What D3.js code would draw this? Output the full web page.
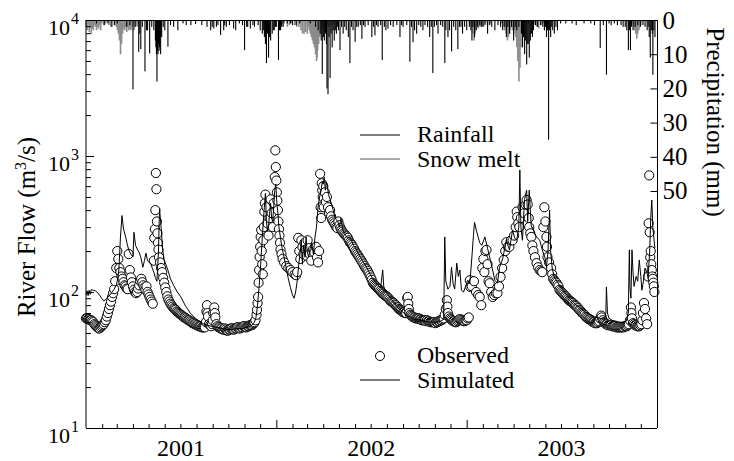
<!DOCTYPE html>
<html><head><meta charset="utf-8">
<script src="https://cdn.jsdelivr.net/npm/d3@7"></script>
<style>
body{margin:0;background:#fff;}
svg text{font-family:"Liberation Serif","Times New Roman",serif;fill:#000;}
</style></head><body>
<svg id="chart" width="734" height="461"></svg>
<script>
// ---- data (day = days since 2001-01-01) ----
const startDate = new Date(2001, 0, 1);
const yearLabels = ["2001", "2002", "2003"];
const flowTicks = [10, 100, 1000, 10000];
const flowExponents = ["1", "2", "3", "4"];
const precipTicks = [0, 10, 20, 30, 40, 50];

// observed river flow [day, m3/s]
const observed = [
[0,64],[2,64],[4,63],[6,63],[8,62],[10,62],[12,61],[14,60],[16,58],[18,57],[20,56],[22,55],[24,54],[26,54],[28,55],
[30,56],[32,57],[34,58],[36,60],[38,62],[40,66],[42,70],[44,75],[46,80],[48,85],[50,92],[52,98],[54,105],[56,120],[58,150],[60,200],[62,175],[64,150],
[66,140],[68,130],[70,125],[72,118],[74,112],[76,110],[78,106],[80,105],[82,190],[84,145],[86,128],[88,118],[90,110],[92,104],[94,100],[96,98],[98,100],[100,106],[102,112],[104,120],[106,125],[108,118],[110,112],[112,108],[114,104],[116,110],[118,100],[120,96],[122,92],[124,88],[126,85],[128,82],
[130,170],[131,250],[132,290],[133,400],[134,750],[135,570],[136,330],[137,270],[138,230],[139,205],[140,180],[142,165],[144,150],
[146,140],[148,127],[150,117],[152,108],[154,100],[156,93],[158,88],[160,85],[162,82],[164,80],[166,78],[168,76],[170,75],[172,74],[174,72],[176,71],[178,70],[180,69],[182,68],[184,67],[186,66],[188,65],[190,65],[192,64],[194,63],[196,62],[198,62],[200,61],[202,60],[204,59],[206,59],[208,58],[210,58],[212,57],[214,57],[216,56],[218,56],[220,56],[222,55],[224,55],[226,55],[228,55],[230,60],[231,72],[232,80],[233,70],[234,66],[236,58],[238,57],[240,56],[242,58],[243,62],[244,70],[246,77],[247,70],[248,65],[250,58],[252,56],[254,55],[256,55],
[258,54],[260,54],[262,53],[264,53],[266,54],[268,53],[270,52],[272,52],[274,53],[276,53],[278,54],[280,54],[282,53],[284,53],[286,54],[288,54],[290,55],[292,55],[294,54],[296,54],[298,55],[300,55],[302,56],[304,56],[306,55],[308,55],[310,56],[312,56],[314,57],[316,57],[318,57],[320,58],[322,59],[323,60],
[325,62],[327,68],[328,74],[329,83],[330,92],[331,117],[332,145],[333,181],[334,215],[335,254],[336,286],[337,200],[338,160],[339,135],[340,240],[341,300],[342,390],[343,450],[344,520],[346,420],[348,320],[350,260],[352,350],[354,480],[356,380],[358,300],[360,450],[362,700],[363,1100],[364,830],[365,660],[366,540],[367,470],[368,400],[369,330],[370,290],[371,260],[372,230],[373,205],[375,190],[377,175],[380,165],
[384,155],[388,150],[392,145],[396,140],[400,135],[403,133],[405,140],[407,250],[409,200],[411,175],[413,240],[415,215],[417,190],[419,230],[421,205],[423,185],[425,240],[427,210],[429,190],[432,170],[435,205],[438,195],[441,215],[443,180],[445,165],[447,200],
[449,740],[450,420],[451,350],[452,630],[453,560],[454,500],[455,600],[456,420],[458,540],[460,460],[462,500],[464,420],[466,380],[468,400],[470,360],[472,340],[474,330],[476,320],[478,310],[480,300],[482,295],
[484,330],[486,310],[488,295],[490,285],[492,278],[494,270],[496,265],[498,260],[500,256],[502,250],[504,240],[506,232],[508,227],[510,222],[512,215],[514,208],[516,200],[518,195],[520,190],[522,185],[524,180],[526,175],[528,170],[530,165],[532,160],[534,155],[536,150],[538,147],[540,143],[542,138],[544,133],[546,128],[548,123],[550,117],[552,114],[554,112],[556,110],[558,108],[560,106],[562,105],[564,102],[566,100],[568,98],[570,97],[572,95],[574,94],[576,93],[578,92],[580,90],[582,88],[584,86],[586,85],[588,84],[590,83],[592,81],[594,80],[596,78],[598,77],[600,75],[602,74],[604,73],[606,72],[608,71],[610,71],[612,70],[614,70],[616,90],[617,92],[618,82],[619,75],[620,70],[622,68],[624,67],[626,66],[628,65],[630,65],[632,64],[634,64],[636,64],[638,64],[640,63],[642,63],[644,62],[646,62],[648,62],[650,62],[652,61],[654,62],[656,61],[658,61],[660,60],[662,60],[664,60],[666,60],
[668,60],[670,59],[672,60],[674,60],[676,61],[678,61],[680,62],[682,62],[684,63],[686,64],[688,68],[690,75],[692,87],[693,78],[694,70],[696,66],[698,64],[700,63],[702,62],[704,61],[706,61],[708,60],[710,60],[712,61],[714,62],[716,63],[718,63],[720,62],[722,62],[724,61],[726,61],[728,62],[730,62],[732,64],[734,65],[736,122],[737,109],
[740,110],[744,120],[748,100],[752,95],[755,92],[758,80],[760,150],[762,175],[764,140],[766,200],[768,204],[770,160],[772,120],[774,116],[777,100],[780,92],[783,95],[786,98],[789,98],[792,110],[795,129],[798,150],[801,172],[804,200],[806,232],[809,215],[812,215],[815,240],[818,240],[821,260],[824,300],[826,390],[827,355],[829,320],[831,300],[834,350],[837,420],[840,380],[843,440],[845,475],[847,440],[849,350],[850,300],[852,270],[854,254],[856,220],[858,200],[861,180],[864,163],[867,152],[870,145],[873,142],[875,140],[877,300],[879,420],[881,330],[883,254],[884,215],[885,180],[888,165],
[892,150],[894,135],[896,125],[898,122],[900,119],[902,117],[904,113],[906,110],[908,104],[910,102],[912,100],[914,98],[916,96],[918,94],[920,93],[922,91],[924,89],[926,87],[928,86],[930,85],[932,84],[934,83],[936,81],[938,80],[940,79],[942,77],[944,76],[946,74],[948,73],[950,71],[952,70],[954,69],[956,68],[958,66],[960,65],[962,64],[964,63],[966,63],[968,62],[970,61],[972,60],[974,60],[976,59],[978,59],[980,59],[982,60],[984,61],[986,64],[988,67],[989,65],[991,62],[993,60],[995,59],[997,58],[999,58],[1001,57],[1003,57],[1005,57],[1007,57],[1009,56],[1011,56],[1013,56],[1015,56],[1017,55],[1019,55],[1021,55],[1023,55],[1025,55],[1027,55],[1029,55],[1031,55],[1033,56],[1035,56],[1037,56],[1039,57],[1041,58],[1043,62],[1045,77],[1046,70],[1047,64],[1049,59],[1051,58],[1053,57],[1055,57],[1057,56],[1059,56],[1061,56],[1063,57],[1065,58],[1067,62],[1068,70],[1070,83],[1072,75],[1074,64],[1076,58],
[1078,130],[1079,320],[1080,720],[1081,275],[1082,180],[1083,200],[1084,160],[1085,145],[1086,130],[1087,125],[1088,117],[1089,110],[1090,100]
];

// simulated river flow [day, m3/s]
const simulated = [
[0,95],[2,102],[4,94],[6,103],[8,96],[10,104],[14,103],[18,102],[22,99],[26,95],[30,90],[34,86],[38,88],[42,92],[46,95],[50,100],[54,105],[58,112],[61,125],[63,145],[66,250],[69,365],[72,290],[76,254],[79,225],[82,204],[86,190],[90,181],[92,275],[95,220],[99,204],[102,195],[105,181],[109,152],[112,170],[115,193],[118,170],[121,165],[124,163],[127,150],[130,140],[133,128],[136,120],[139,200],[141,410],[144,300],[147,204],[150,172],[157,145],[162,125],[168,112],[175,100],[182,92],[190,80],[200,70],[210,64],[220,60],[226,58],[233,57],[240,56],[250,55],[260,54],[270,53],[280,53],[290,54],[300,54],[310,55],[318,57],[323,60],
[326,65],[329,80],[332,110],[335,160],[338,250],[340,330],[342,420],[344,530],[346,330],[348,280],[350,300],[352,380],[354,450],[356,350],[358,330],[360,420],[362,560],[364,620],[366,450],[368,380],[370,300],[373,250],[376,210],[380,180],[384,150],[388,125],[392,108],[396,95],[399,90],[402,100],[405,120],[408,160],[411,200],[413,240],[415,160],[417,220],[420,180],[422,254],[424,200],[427,180],[430,210],[433,230],[436,190],[439,250],[442,300],[445,420],[448,500],[451,560],[453,650],[455,620],[457,700],[459,560],[461,640],[463,600],[465,520],[468,480],[471,440],[474,400],[477,360],[480,340],[483,330],[486,300],[489,350],[492,290],[495,270],[498,260],[501,250],[505,254],[509,240],[513,220],[517,210],[521,195],[526,180],[532,165],[539,150],[545,135],[550,125],[555,118],[560,112],[565,108],[569,145],[571,110],[575,100],[580,95],[586,88],[592,82],[598,77],[604,73],[610,70],[616,67],[622,65],[630,63],[640,62],[650,61],[660,60],[670,60],[680,61],[686,63],
[688,254],[690,120],[694,105],[698,110],[701,152],[704,115],[707,105],[711,163],[714,130],[717,145],[720,103],[724,100],[728,110],[732,122],[736,115],[740,180],[743,260],[745,325],[749,280],[755,230],[759,220],[765,254],[770,210],[774,181],[779,150],[784,122],[789,116],[793,152],[799,175],[806,240],[812,204],[818,285],[822,250],[826,240],[830,300],[832,790],[834,300],[837,240],[841,480],[845,560],[847,330],[850,560],[852,400],[854,300],[856,300],[860,270],[864,254],[870,240],[875,204],[880,180],[883,152],[886,200],[889,400],[891,200],[894,150],[898,129],[903,120],[908,112],[914,104],[921,96],[927,90],[933,85],[940,80],[946,77],[955,72],[965,69],[975,66],[985,64],[994,63],[997,70],[998,109],[1000,70],[1003,64],[1009,62],[1016,61],[1022,60],[1030,60],[1036,61],[1040,70],[1042,204],[1043,110],[1045,90],[1047,204],[1049,140],[1051,110],[1055,130],[1058,120],[1061,172],[1064,130],[1066,103],[1069,120],[1072,150],[1075,140],[1078,130],[1081,200],[1083,350],[1085,475],[1087,300],[1089,250],[1091,210]
];

// rainfall [day, mm]
const rainfall = [
[20,1],[35,1.5],[42,1],[48,2],[55,1.5],[60,1],[78,2],[84,1.5],[90,20.3],[94,2],[101,9.3],[103,4],[105,8.5],[108,2],[113,15],[116,3],[118,3],[122,9.8],[126,2],[130,3],[133,6],[134,8],[135,10],[136,18],[137,9],[138,10],[139,7],[140,9],[141,8],[142,5],[143,10],[144,4],[145,5],[148,2],[151,3],[157,7.8],[162,1.5],[168,2],[176,3],[186,1],[192,1.5],[201,1.5],[210,1.2],[222,1.5],[232,2],[239,3],[242,2],[245,2.5],[250,2],[253,1.5],[258,4.4],[264,3],[266,1.5],[269,2],[275,1.5],[283,2.5],[287,3],[294,1],[300,1.5],[304,8.8],[308,2],[310,2],[315,2.5],[320,1.5],[323,2],[330,1.5],[334,3],[338,4],[340,3],[342,5],[344,7],[346,12.6],[348,4],[350,11],[352,5],[354,6],[357,4],[359,3],[361,3],[363,2],[365,2],[369,11.7],[371,3],[373,3],[375,2],[378,2],
[386,1],[392,1],[396,1.5],[403,1.5],[410,1],[430,1],[440,2],[445,3],[449,4],[451,6],[453,15.8],[455,5],[457,6],[459,4],[461,7],[462,20],[464,21.7],[466,5],[468,17],[470,4],[472,8],[474,3],[476,6],[478,3],[480,4],[482,2],[484,3],[487,8.8],[490,2],[493,4],[496,2],[499,3],[503,5],[506,12.6],[509,2],[512,3],[516,6.4],[519,2],[522,2],[526,1.5],[529,5.5],[532,1.5],[535,2],[541,1.5],[548,5],[551,2],[554,4.5],[557,1.5],[560,2],[565,1.5],[568,11.7],[572,2],[575,3],[579,2.5],[584,1.5],[589,2],[596,1.5],[602,5],[605,1.5],[608,2],[615,1.5],[621,12.2],[624,2],[627,6.5],[630,3],[634,4],[638,1.5],[642,2],[646,3],[650,1.5],[655,2],[659,5],[662,2],[665,15.5],[668,2],[672,1.5],[675,4],[680,1.5],[684,2],[688,12.6],[690,3],[694,5],[697,3],[701,9.2],[705,2],[709,3],[713,8.5],[716,2],[719,2],[722,4],[726,2],[730,3],[735,2],[738,3],[740,6],[742,2],[745,5],[748,3],[751,2],
[755,1.5],[758,2],[761,2],[765,1.5],[770,4],[774,1.5],[778,2],[784,3],[790,1.5],[795,2],[799,3],[803,2],[806,5],[809,2],[812,4],[816,2],[820,6],[823,2],[826,3],[830,2],[835,4],[837,8],[839,5],[841,10],[843,6],[845,13],[846,7],[848,7],[850,11],[852,6],[854,4],[856,5],[858,3],[862,1.5],[866,2],[872,1.5],[876,2],[879,3],[881,2],[883,5],[885,3],[887,35],[889,3],[891,5],[893,2],[895,3],[898,4],[901,2],[904,3],[910,1],[920,1],[932,1],[940,1.5],[955,1],[968,1],[975,1.5],[986,8.2],[992,1.5],[998,16],[1003,1],[1007,1.5],[1013,1],[1019,1.5],[1026,1.5],[1030,2],[1034,2],[1037,3],[1040,8.8],[1042,3],[1044,8.8],[1046,2],[1049,3],[1053,2],[1058,1.5],[1063,2],[1068,1.5],[1072,2],[1076,3],[1078,2],[1080,5],[1082,11],[1084,3],[1086,4],[1087,16],[1089,3],[1091,5]
];

// snow melt [day, mm]
const snowmelt = [
[0,2],[2,3],[4,1.5],[6,3.5],[8,2],[10,4],[12,2.5],[14,3],[16,1.5],[18,2],[20,3],[22,2],[24,2.5],[26,1.5],[28,3],[30,1],[34,1.5],[38,1],[44,1.5],[50,2],[54,1.5],[58,2],[60,3],[62,4],[64,6],[66,10],[68,7],[70,4],[72,2.5],[74,3],[76,2],[78,3.5],[80,2],[82,3],[84,2.5],[86,3],[88,2],[90,1.5],[92,3],[94,2],[96,1.5],[98,2],[100,1],
[372,1],[376,1.5],[380,1],[386,2],[390,1.5],[394,1],[400,1.5],[404,2],[408,2],[412,3],[415,4],[418,4],[421,3.5],[424,4],[426,2],[428,3],[430,4],[432,5],[434,6],[436,7],[438,8],[440,10],[442,12],[443,11],[444,9],[446,7],[448,5],[450,4],[452,3],[454,2],[456,2],[458,3],[460,2],[463,1.5],[466,2],[470,1.5],[474,1],
[736,1],[740,2],[742,4],[744,6],[746,4],[748,3],[750,2],[752,2.5],[755,2],[758,1.5],[762,2],[766,1],[770,1.5],[775,1],[796,1],[800,2],[803,3],[806,4],[808,6],[810,5],[812,4],[814,3],[816,2],[818,3],[820,4],[822,3],[824,5],[826,8],[828,12],[830,18],[832,14],[834,8],[836,4],[838,2],[842,1.5],[848,1],[860,1.5],[864,2],[868,2.5],[872,1.5],[876,1],
[1046,1],[1050,2],[1052,3],[1054,4],[1056,5.5],[1058,4],[1060,3],[1062,2],[1064,1.5]
];

// ---- chart ----
const svg = d3.select("#chart");
const M = {left: 86, right: 657, top: 20, bottom: 428};
const toDate = d => d3.timeDay.offset(startDate, d);

const x = d3.scaleTime().domain([new Date(2001,0,1), new Date(2004,0,1)]).range([M.left, M.right]);
const y = d3.scaleLog().domain([10, 10000]).range([M.bottom, M.top]);
const p = d3.scaleLinear().domain([0, 119.3]).range([M.top, M.bottom]);

// precipitation bars
svg.append("g").selectAll("rect").data(snowmelt).join("rect")
  .attr("x", d => x(toDate(d[0])) - 0.7).attr("width", 1.6)
  .attr("y", M.top).attr("height", d => p(d[1]) - M.top)
  .attr("fill", "#8c8c8c");
svg.append("g").selectAll("rect").data(rainfall).join("rect")
  .attr("x", d => x(toDate(d[0])) - 0.5).attr("width", 1.1)
  .attr("y", M.top).attr("height", d => p(d[1]) - M.top)
  .attr("fill", "#000");

// observed circles
svg.append("g").selectAll("circle").data(observed).join("circle")
  .attr("cx", d => x(toDate(d[0]))).attr("cy", d => y(d[1])).attr("r", 4.6)
  .attr("fill", "#fff").attr("stroke", "#000").attr("stroke-width", 1);

// simulated line
const line = d3.line().x(d => x(toDate(d[0]))).y(d => y(d[1]));
svg.append("path").datum(simulated).attr("d", line)
  .attr("fill", "none").attr("stroke", "#000").attr("stroke-width", 1);

// frame
svg.append("line").attr("x1", 86).attr("x2", 86).attr("y1", M.top).attr("y2", M.bottom).attr("stroke", "#000");
svg.append("line").attr("x1", M.left).attr("x2", M.right).attr("y1", M.bottom + 0.5).attr("y2", M.bottom + 0.5).attr("stroke", "#000");
svg.append("line").attr("x1", M.right + 0.5).attr("x2", M.right + 0.5).attr("y1", M.top).attr("y2", M.bottom).attr("stroke", "#000");
svg.append("line").attr("x1", M.left).attr("x2", M.right).attr("y1", M.top + 0.5).attr("y2", M.top + 0.5).attr("stroke", "#000");

// left axis (log)
const minorFlow = [];
[10, 100, 1000].forEach(b => { for (let k = 2; k <= 9; k++) minorFlow.push(b * k); });
const gMinorL = svg.append("g").attr("transform", `translate(${M.left},0)`)
  .call(d3.axisLeft(y).tickValues(minorFlow).tickSize(-5).tickFormat(""));
const gMajorL = svg.append("g").attr("transform", `translate(${M.left},0)`)
  .call(d3.axisLeft(y).tickValues(flowTicks).tickSize(-8).tickFormat(""));
[gMinorL, gMajorL].forEach(g => { g.select(".domain").remove(); g.selectAll("line").attr("stroke", "#000"); });
gMajorL.selectAll(".tick").each(function(d, i) {
  const t = d3.select(this);
  t.append("text").attr("x", -16).attr("y", 14).attr("text-anchor", "end")
    .style("font-size", "22px").text("10");
  t.append("text").attr("x", -15).attr("y", 3).attr("text-anchor", "start")
    .style("font-size", "16px").text(flowExponents[i]);
});

// bottom axis (time)
const minorMonths = d3.timeMonth.range(new Date(2001,1,1), new Date(2004,0,1)).filter(d => d.getMonth() !== 0);
const gMinorB = svg.append("g").attr("transform", `translate(0,${M.bottom})`)
  .call(d3.axisBottom(x).tickValues(minorMonths).tickSize(-4).tickFormat(""));
const gMajorB = svg.append("g").attr("transform", `translate(0,${M.bottom})`)
  .call(d3.axisBottom(x).tickValues([new Date(2002,0,1), new Date(2003,0,1)]).tickSize(-8).tickFormat(""));
[gMinorB, gMajorB].forEach(g => { g.select(".domain").remove(); g.selectAll("line").attr("stroke", "#000"); });
const gYears = svg.append("g").attr("transform", `translate(0,${M.bottom})`)
  .call(d3.axisBottom(x).tickValues(yearLabels.map(s => new Date(+s, 6, 1))).tickSize(0).tickPadding(0)
    .tickFormat((d, i) => yearLabels[i]));
gYears.select(".domain").remove();
gYears.selectAll("text").attr("dy", null).attr("y", 28).style("font-size", "24px");

// right axis (precipitation)
const gR = svg.append("g").attr("transform", `translate(${M.right + 0.5},0)`)
  .call(d3.axisRight(p).tickValues(precipTicks).tickSize(-7).tickPadding(5));
gR.select(".domain").remove();
gR.selectAll("line").attr("stroke", "#000");
gR.selectAll("text").style("font-size", "25px").attr("fill", "#000");

// axis titles
const tl = svg.append("text").attr("transform", "translate(35,227) rotate(-90)")
  .attr("text-anchor", "middle").style("font-size", "25px");
tl.append("tspan").text("River Flow (m");
tl.append("tspan").attr("dy", -9).style("font-size", "16px").text("3");
tl.append("tspan").attr("dy", 9).text("/s)");
svg.append("text").attr("transform", "translate(707,122) rotate(90)")
  .attr("text-anchor", "middle").style("font-size", "25px").text("Precipitation (mm)");

// legends
const legend = svg.append("g").style("font-size", "24px");
legend.append("line").attr("x1", 360).attr("x2", 400).attr("y1", 135).attr("y2", 135).attr("stroke", "#000");
legend.append("text").attr("x", 417).attr("y", 142).text("Rainfall");
legend.append("line").attr("x1", 360).attr("x2", 400).attr("y1", 159).attr("y2", 159).attr("stroke", "#8c8c8c").attr("stroke-width", 1.5);
legend.append("text").attr("x", 417).attr("y", 167).text("Snow melt");
legend.append("circle").attr("cx", 380).attr("cy", 356).attr("r", 4.5).attr("fill", "#fff").attr("stroke", "#000");
legend.append("text").attr("x", 417).attr("y", 363).text("Observed");
legend.append("line").attr("x1", 360).attr("x2", 400).attr("y1", 380).attr("y2", 380).attr("stroke", "#000");
legend.append("text").attr("x", 417).attr("y", 388).text("Simulated");
</script>
</body></html>
